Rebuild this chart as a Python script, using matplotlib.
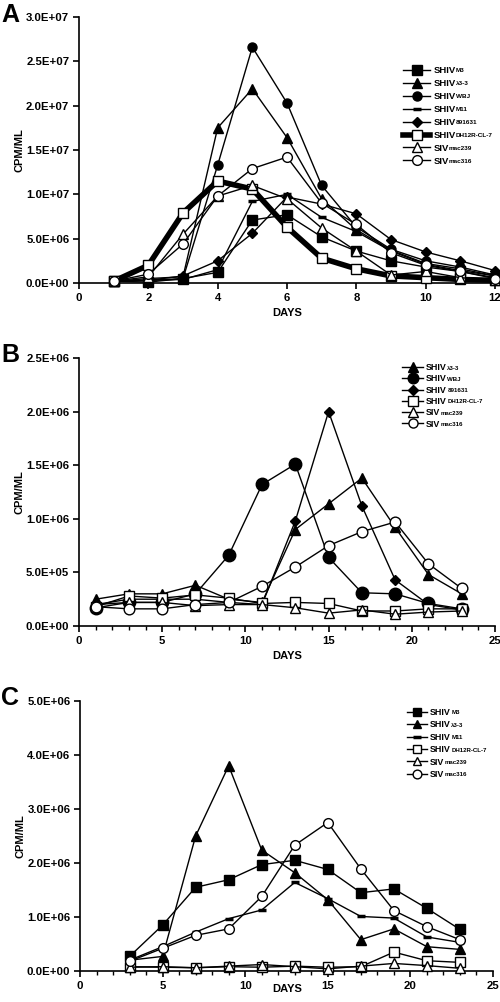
import matplotlib
matplotlib.use("Agg")
import matplotlib.pyplot as plt
from matplotlib.lines import Line2D
from matplotlib.ticker import FuncFormatter, MultipleLocator

plt.rcParams["font.family"] = ["Liberation Sans", "DejaVu Sans"]
plt.rcParams["font.weight"] = "bold"

# values in units of 1e6 cpm/ml
A_DAYS = [1, 2, 3, 4, 5, 6, 7, 8, 9, 10, 11, 12]
A_M3 = [0.2, 0.1, 0.5, 1.2, 7.1, 7.7, 5.2, 3.6, 2.5, 1.8, 1.3, 0.6]
A_L33 = [0.2, 0.5, 0.7, 17.5, 21.9, 16.4, 9.5, 6.0, 3.7, 2.2, 1.6, 0.8]
A_WBJ = [0.2, 0.3, 0.5, 13.3, 26.6, 20.3, 11.0, 6.3, 3.8, 2.5, 1.8, 0.9]
A_M11 = [0.2, 0.3, 0.4, 1.5, 9.2, 10.0, 7.4, 5.8, 3.6, 2.1, 1.4, 0.8]
A_896 = [0.2, 0.3, 0.8, 2.5, 5.6, 9.7, 8.9, 7.8, 4.9, 3.5, 2.5, 1.4]
A_DH12 = [0.2, 2.0, 7.9, 11.5, 10.6, 6.3, 2.8, 1.6, 0.8, 0.6, 0.4, 0.3]
A_239 = [0.2, 0.7, 5.5, 9.8, 11.0, 9.5, 6.2, 3.6, 0.9, 1.3, 0.6, 0.3]
A_316 = [0.2, 1.0, 4.4, 9.8, 12.9, 14.2, 9.0, 6.6, 3.4, 2.0, 1.3, 0.5]

B_DAYS = [1, 3, 5, 7, 9, 11, 13, 15, 17, 19, 21, 23]
B_L33 = [0.25, 0.30, 0.30, 0.38, 0.25, 0.22, 0.90, 1.14, 1.38, 0.92, 0.48, 0.30]
B_WBJ = [0.17, 0.22, 0.22, 0.30, 0.66, 1.32, 1.51, 0.64, 0.31, 0.30, 0.21, 0.16]
B_896 = [0.20, 0.25, 0.25, 0.25, 0.22, 0.20, 0.98, 2.00, 1.12, 0.43, 0.20, 0.15]
B_DH12 = [0.18, 0.28, 0.26, 0.29, 0.26, 0.21, 0.22, 0.21, 0.14, 0.14, 0.16, 0.16]
B_239 = [0.20, 0.22, 0.22, 0.19, 0.20, 0.20, 0.17, 0.12, 0.15, 0.11, 0.13, 0.14]
B_316 = [0.18, 0.16, 0.16, 0.20, 0.22, 0.37, 0.55, 0.75, 0.88, 0.97, 0.58, 0.35]

C_DAYS = [3, 5, 7, 9, 11, 13, 15, 17, 19, 21, 23]
C_M3 = [0.27, 0.85, 1.55, 1.69, 1.97, 2.05, 1.88, 1.45, 1.52, 1.16, 0.77]
C_L33 = [0.20, 0.27, 2.50, 3.80, 2.24, 1.82, 1.32, 0.58, 0.78, 0.45, 0.40]
C_M11 = [0.20, 0.45, 0.72, 0.97, 1.13, 1.64, 1.34, 1.01, 0.98, 0.63, 0.53]
C_DH12 = [0.08, 0.07, 0.06, 0.08, 0.07, 0.09, 0.07, 0.08, 0.35, 0.19, 0.16]
C_239 = [0.07, 0.08, 0.06, 0.09, 0.12, 0.08, 0.04, 0.09, 0.14, 0.10, 0.05]
C_316 = [0.18, 0.42, 0.66, 0.78, 1.38, 2.33, 2.75, 1.89, 1.12, 0.82, 0.58]

# legend names: main part + subscript
NAMES = {
    "M3": ("SHIV", "M3"),
    "L33": ("SHIV", "λ3-3"),
    "WBJ": ("SHIV", "WBJ"),
    "M11": ("SHIV", "M11"),
    "896": ("SHIV", "891631"),
    "DH12": ("SHIV", "DH12R-CL-7"),
    "239": ("SIV", "mac239"),
    "316": ("SIV", "mac316"),
}

# marker, filled, size
STYLE = {
    "M3": ("s", True, 6.5),
    "L33": ("^", True, 7),
    "WBJ": ("o", True, 6.5),
    "M11": ("_", True, 6),
    "896": ("D", True, 5),
    "DH12": ("s", False, 7),
    "239": ("^", False, 7),
    "316": ("o", False, 7),
}

W, H = 500, 1002
fig = plt.figure(figsize=(W / 100, H / 100), dpi=100)


def px_axes(left, top, right, bottom):
    return fig.add_axes([left / W, 1 - bottom / H, (right - left) / W, (bottom - top) / H])


def draw(ax, days, series, size_scale=1.0, lw_over=None, ms_over=None):
    handles = []
    for key, vals in series:
        mk, filled, ms = STYLE[key]
        ms = ms * size_scale
        if ms_over and key in ms_over:
            ms = ms_over[key]
        lw = 1.0
        if lw_over and key in lw_over:
            lw = lw_over[key]
        kw = dict(color="black", lw=lw, marker=mk, ms=ms,
                  mfc="black" if filled else "white", mec="black",
                  mew=2.5 if mk == "_" else 1.0, clip_on=False)
        ax.plot(days, [v * 1e6 for v in vals], zorder=3, **kw)
        handles.append(Line2D([], [], label=NAMES[key][0], **kw))
    return handles, [NAMES[k][1] for k, _ in series]


def style_axes(ax, xmax, xmajor, ymax, yticks, xminor=None):
    ax.set_xlim(0, xmax)
    ax.set_ylim(0, ymax)
    ax.xaxis.set_major_locator(MultipleLocator(xmajor))
    if xminor:
        ax.xaxis.set_minor_locator(MultipleLocator(xminor))
    ax.set_yticks(yticks)
    ax.yaxis.set_major_formatter(FuncFormatter(lambda v, p: f"{v:.1E}"))
    for s in ("top", "right"):
        ax.spines[s].set_visible(False)
    for s in ("left", "bottom"):
        ax.spines[s].set_linewidth(1.2)
    ax.tick_params(axis="both", which="major", direction="out", length=4, width=1.2,
                   labelsize=8.2, pad=3)
    ax.tick_params(axis="both", which="minor", direction="out", length=3, width=1.0)
    for lab in ax.get_xticklabels() + ax.get_yticklabels():
        lab.set_fontweight("bold")
    ax.set_ylabel("CPM/ML", fontsize=8, fontweight="bold")
    ax.yaxis.set_label_coords(-54 / (ax.get_position().width * W), 0.5)


legends = []


def legend(ax, handles, subs, x, y, fs, sfs, hl, spacing, mscale=1.0):
    leg = ax.legend(handles=handles, loc="upper left", bbox_to_anchor=(x / W, 1 - y / H),
                    bbox_transform=fig.transFigure, frameon=False, fontsize=fs,
                    handlelength=hl, handletextpad=0.3, labelspacing=spacing,
                    borderpad=0, borderaxespad=0, markerscale=mscale)
    legends.append((leg, subs, sfs))


def days_label(y):
    fig.text(287 / W, 1 - y / H, "DAYS", fontsize=8, fontweight="bold", ha="center", va="center")


# panel A
axA = px_axes(79, 17, 495, 283)
hA, sA = draw(axA, A_DAYS, [("M3", A_M3), ("L33", A_L33), ("WBJ", A_WBJ), ("M11", A_M11),
                            ("896", A_896), ("DH12", A_DH12), ("239", A_239), ("316", A_316)],
              lw_over={"DH12": 4.0})
style_axes(axA, 12, 2, 3.0e7, [i * 5e6 for i in range(7)])
legend(axA, hA, sA, 403, 66, 6.8, 4.6, 2.9, 0.42)
days_label(313)
fig.text(1 / W, 1 - 3 / H, "A", fontsize=18, fontweight="bold", va="top", ha="left")

# panel B
axB = px_axes(79, 358, 495, 626)
hB, sB = draw(axB, B_DAYS, [("L33", B_L33), ("WBJ", B_WBJ), ("896", B_896), ("DH12", B_DH12),
                            ("239", B_239), ("316", B_316)],
              size_scale=1.1, ms_over={"WBJ": 9})
style_axes(axB, 25, 5, 2.5e6, [i * 5e5 for i in range(6)], xminor=1)
legend(axB, hB, sB, 402, 363, 6.4, 4.4, 2.4, 0.26, mscale=0.85)
days_label(656)
fig.text(1 / W, 1 - 343 / H, "B", fontsize=18, fontweight="bold", va="top", ha="left")

# panel C
axC = px_axes(80, 701, 493, 971)
hC, sC = draw(axC, C_DAYS, [("M3", C_M3), ("L33", C_L33), ("M11", C_M11), ("DH12", C_DH12),
                            ("239", C_239), ("316", C_316)])
style_axes(axC, 25, 5, 5.0e6, [i * 1e6 for i in range(6)], xminor=1)
legend(axC, hC, sC, 407, 708, 6.4, 4.4, 2.3, 0.38, mscale=0.9)
days_label(989)
fig.text(1 / W, 1 - 686 / H, "C", fontsize=18, fontweight="bold", va="top", ha="left")

# subscripts next to each legend entry
fig.canvas.draw()
renderer = fig.canvas.get_renderer()
for leg, subs, sfs in legends:
    for t, sub in zip(leg.get_texts(), subs):
        bb = t.get_window_extent(renderer)
        fig.text((bb.x1 + 0.5) / W, (bb.y0 + 1.5) / H, sub, fontsize=sfs,
                 fontweight="bold", ha="left", va="bottom")

fig.savefig("out.png", dpi=100)
